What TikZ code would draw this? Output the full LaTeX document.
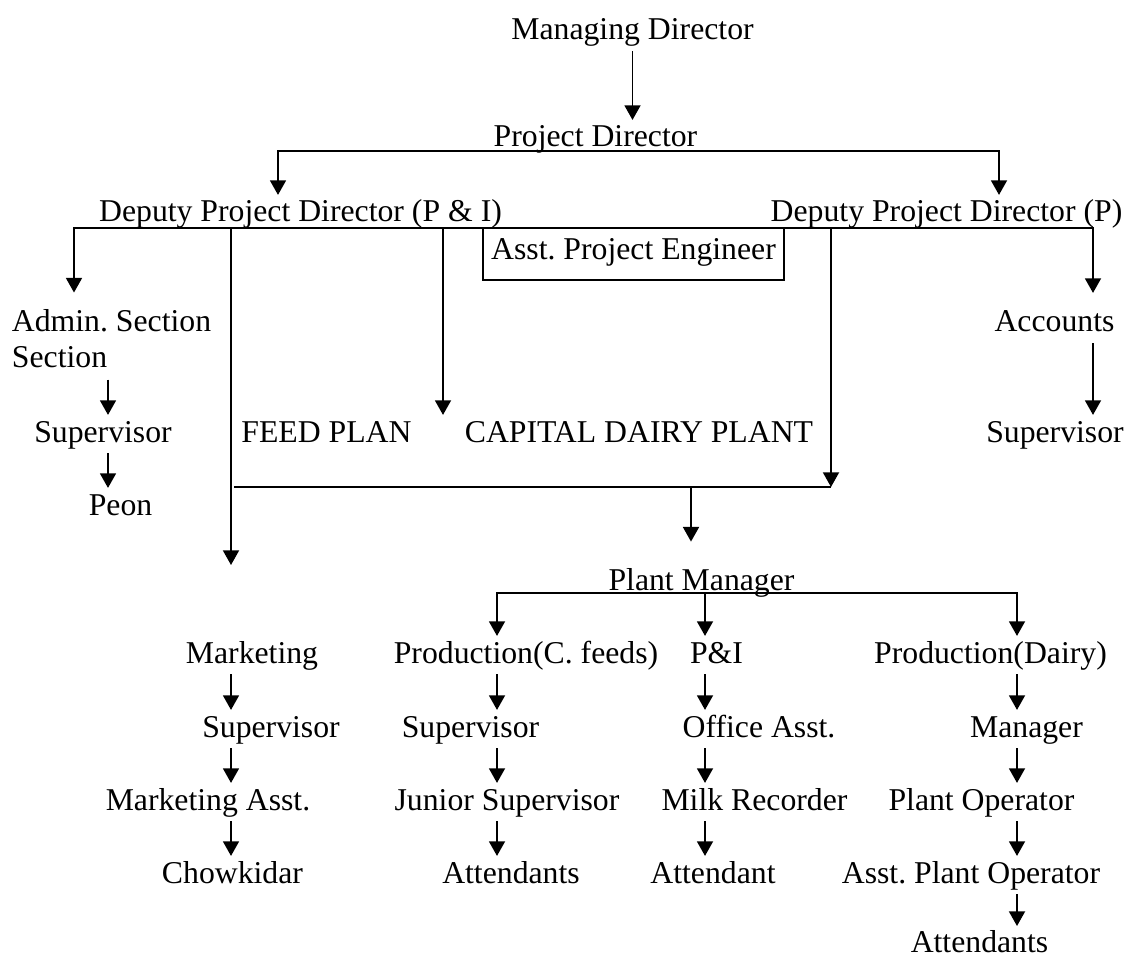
\documentclass[tikz,border=0pt]{standalone}
\usepackage{fontspec}
\setmainfont{Liberation Serif}
\usetikzlibrary{arrows.meta}
\frenchspacing

\tikzset{
	post/.style={anchor=base, inner sep=0pt, outer xsep=0pt, outer ysep=3.8pt, text height=16.5pt, text depth=4.5pt},
	arr/.style={-{Triangle[width=12pt,length=11pt]}},
	arrs/.style={{Triangle[width=12pt,length=11pt]}-{Triangle[width=12pt,length=11pt]}},
}

\begin{document}
\begin{tikzpicture}[x=0.75pt, y=-0.75pt, line width=1.4pt, font=\fontsize{23.8}{27}\selectfont]
		%%%%% START %%%%%
		\useasboundingbox (0,0) rectangle (1129,959);
		
		\node[post] (md) at (632.5,40) {Managing Director};
		\node[post] (pd) at (595.5,147) {Project Director};
		\node[post] (dpi) at (300.5,222) {Deputy Project Director (P \& I)};
		\node[post] (dpp) at (946.5,222) {Deputy Project Director (P)};
		\node[draw, line width=1.2pt, inner sep=0pt, minimum width=225.75pt, minimum height=39pt, text height=14pt, text depth=6pt] (ape) at (633.5,254) {Asst. Project Engineer};
		
		\node[anchor=base west, inner sep=0pt] (adm) at (11,332) {\begin{tabular}[t]{@{}l@{}}Admin. Section\\Section\end{tabular}};
		\node[post] (sup1) at (103,442) {Supervisor};
		\node[post] (peon) at (120.5,515) {Peon};
		\node[post] (feed) at (326.5,442) {FEED PLAN};
		\node[post] (cap) at (639,442) {CAPITAL DAIRY PLANT};
		\node[post] (acc) at (1054.5,332) {Accounts};
		\node[post] (sup2) at (1055,442) {Supervisor};
		
		\node[post] (pm) at (701.5,590) {Plant Manager};
		
		\node[post] (mkt) at (252,663) {Marketing};
		\node[post] (msup) at (271,737) {Supervisor};
		\node[post] (masst) at (208,810) {Marketing Asst.};
		\node[post] (chow) at (232.5,883) {Chowkidar};
		
		\node[post] (pcf) at (526,663) {Production(C. feeds)};
		\node[post] (csup) at (470.5,737) {Supervisor};
		\node[post] (jsup) at (507,810) {Junior Supervisor};
		\node[post] (catt) at (511,883) {Attendants};
		
		\node[post] (pi) at (716.5,663) {P\&I};
		\node[post] (oa) at (759,737) {Office Asst.};
		\node[post] (milk) at (754.5,810) {Milk Recorder};
		\node[post] (att) at (713,883) {Attendant};
		
		\node[post] (pd2) at (990.5,663) {Production(Dairy)};
		\node[post] (dmgr) at (1026.5,737) {Manager};
		\node[post] (po) at (981.5,810) {Plant Operator};
		\node[post] (apo) at (971,883) {Asst. Plant Operator};
		\node[post, text depth=0pt, outer ysep=0pt] (datt) at (979.5,952) {Attendants};
		
		% bus corners
		\coordinate (pdL) at (278,151);
		\coordinate (pdR) at (999,151);
		\coordinate (bL) at (74,228);
		\coordinate (bR) at (1093,228);
		\coordinate (mkX) at (231,228);
		\coordinate (mkEnd) at (231,565);
		\coordinate (fdX) at (443,228);
		\coordinate (cpX) at (831,228);
		\coordinate (cpY) at (831,487);
		\coordinate (mkJ) at (234,487);
		\coordinate (pmX) at (691,487);
		\coordinate (pmL) at (497,593);
		\coordinate (pmM) at (705,593);
		\coordinate (pmR) at (1017,593);
		\coordinate (adX) at (108,0);
		
		\draw[arr] (md.south) -- (md.south |- pd.north);
		\draw[arrs] (pdL |- dpi.north) -- (pdL) -- (pdR) -- (pdR |- dpp.north);
		\draw[arrs] ([yshift=10pt]adm.north -| bL) -- (bL) -- (bR) -- ([yshift=9pt]acc.north -| bR);
		
		\draw[arr] (mkX) -- (mkEnd);
		\draw[arr] (fdX) -- (fdX |- feed.north);
		\draw[arr] (cpX) -- (cpY);
		\draw (mkJ) -- (cpY);
		\draw[arr] (pmX) -- ([yshift=16pt]pm.north -| pmX);
		
		\draw[arrs] (pmL |- pcf.north) -- (pmL) -- (pmR) -- (pmR |- pd2.north);
		\draw[arr] (pmM) -- (pmM |- pi.north);
		
		\foreach \a/\b/\c in {adm/sup1/adX, sup1/peon/adX, acc/sup2/bR,
			mkt/msup/mkX, msup/masst/mkX, masst/chow/mkX,
			pcf/csup/pmL, csup/jsup/pmL, jsup/catt/pmL,
			pi/oa/pmM, oa/milk/pmM, milk/att/pmM,
			pd2/dmgr/pmR, dmgr/po/pmR, po/apo/pmR}
			\draw[arr] (\a.south -| \c) -- (\b.north -| \c);
		\draw[arr] (apo.south -| pmR) -- ([yshift=3pt]datt.north -| pmR);
		
		%%%%% END %%%%%
\end{tikzpicture}
\end{document}
